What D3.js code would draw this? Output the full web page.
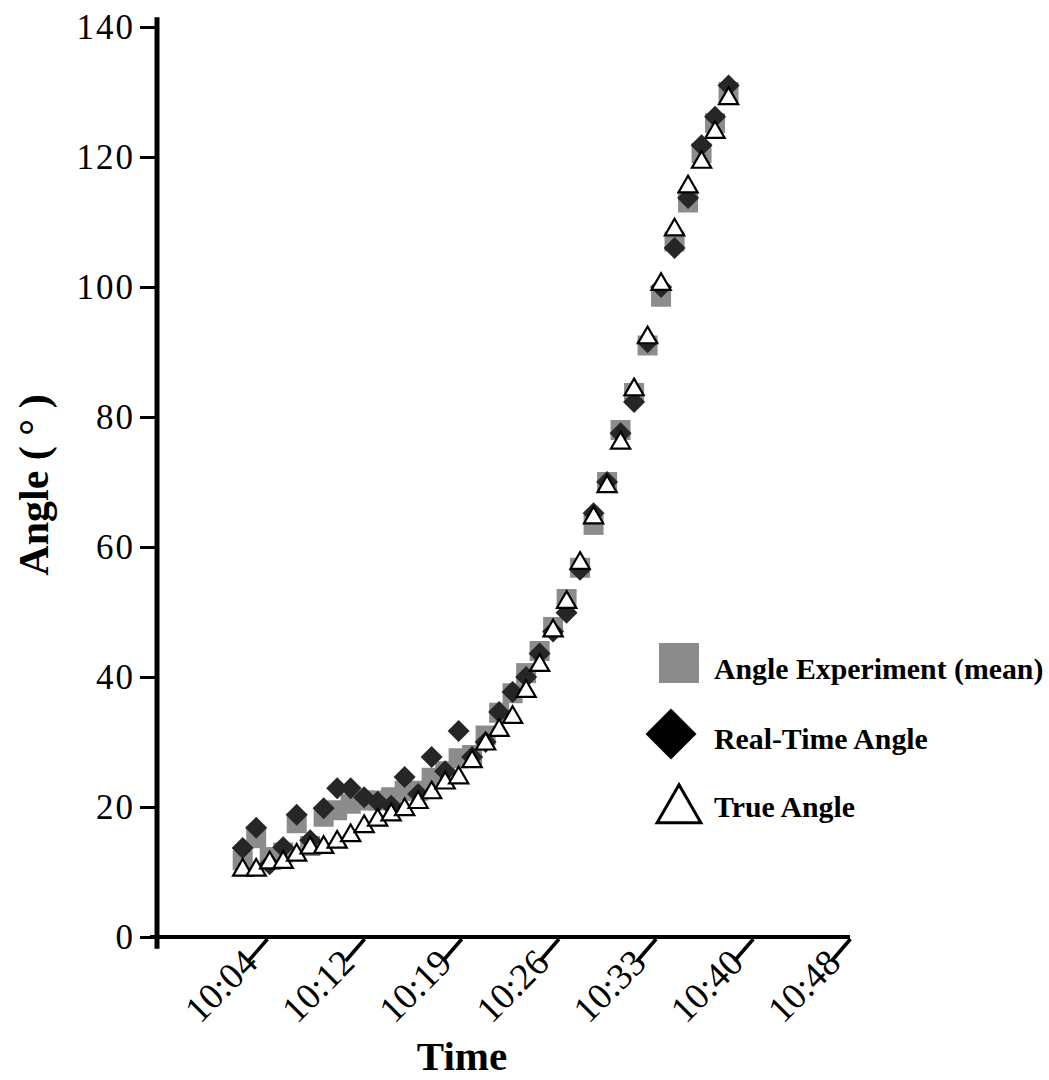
<!DOCTYPE html>
<html><head><meta charset="utf-8">
<script src="https://cdn.jsdelivr.net/npm/d3@7"></script>
<style>
html,body{margin:0;padding:0;background:#fff;}
svg{display:block;}
</style></head>
<body>
<svg id="chart" width="1049" height="1080"></svg>
<script>
// ---- data ----
const times = ["10:03","10:04","10:05","10:06","10:07","10:08","10:09","10:10","10:11","10:12",
  "10:13","10:14","10:15","10:16","10:17","10:18","10:19","10:20","10:21","10:22",
  "10:23","10:24","10:25","10:26","10:27","10:28","10:29","10:30","10:31","10:32",
  "10:33","10:34","10:35","10:36","10:37","10:38","10:39"];
const angleExperiment = [11.8,15.2,12.3,13.0,17.5,14.0,18.5,19.5,20.5,21.0,21.0,21.5,22.5,22.5,24.5,25.5,27.5,28.0,31.0,34.5,
  37.5,40.6,44.0,47.7,52.0,56.8,63.4,70.0,78.0,83.7,91.0,98.5,107.0,113.0,120.6,125.2,130.0];
const realTimeAngle = [13.7,16.8,11.2,13.8,18.8,14.9,19.8,22.9,22.9,21.5,20.8,20.2,24.6,22.0,27.7,25.5,31.7,27.7,30.0,34.6,
  37.7,40.0,43.6,47.0,49.9,56.5,65.2,70.0,77.5,82.3,91.5,100.0,106.0,113.7,121.8,126.2,131.0];
const trueAngle = [10.3,10.3,11.4,11.5,12.6,13.7,13.8,14.6,15.6,17.0,18.0,18.8,19.6,20.7,22.2,23.7,24.5,27.0,29.7,31.8,
  33.8,37.8,41.8,47.1,51.5,57.5,64.5,69.3,76.0,84.2,92.2,100.4,108.8,115.4,119.2,123.8,129.0];
const xTickValues = [4.8, 12, 19.2, 26.4, 33.6, 40.8, 48];   // minutes after 10:00
const xTickLabels = ["10:04","10:12","10:19","10:26","10:33","10:40","10:48"];
const yTickValues = [0,20,40,60,80,100,120,140];
const seriesNames = ["Angle Experiment (mean)","Real-Time Angle","True Angle"];

// ---- helpers ----
const toMin = s => { const [h,m] = s.split(":").map(Number); return (h-10)*60 + m; };
const serif = "'Liberation Serif','Times New Roman',Times,serif";

const svg = d3.select("#chart");
const x = d3.scaleLinear().domain([-3.35, 48]).range([157, 850]);
const y = d3.scaleLinear().domain([0, 140]).range([937, 27]);

// ---- axes ----
const yAxis = d3.axisLeft(y).tickValues(yTickValues).tickSize(17).tickPadding(5).tickSizeOuter(0);
const gy = svg.append("g").attr("transform", `translate(${x(-3.35)},0)`).call(yAxis);
gy.select(".domain").remove();
gy.selectAll(".tick line").attr("stroke", "#000").attr("stroke-width", 3);
gy.selectAll(".tick text").attr("font-family", serif).attr("font-size", 35).attr("fill", "#000")
  .attr("letter-spacing", 2);

const xAxis = d3.axisBottom(x).tickValues(xTickValues).tickFormat((d,i) => xTickLabels[i]).tickSizeOuter(0);
const gx = svg.append("g").attr("transform", `translate(0,${y(0)})`).call(xAxis);
gx.select(".domain").remove();
gx.selectAll(".tick line").attr("x1", 0).attr("y1", 2).attr("x2", -19).attr("y2", 24)
  .attr("stroke", "#000").attr("stroke-width", 3.5);
gx.selectAll(".tick text").attr("font-family", serif).attr("font-size", 37).attr("fill", "#000")
  .attr("dy", null).attr("y", null)
  .attr("transform", "translate(-8,28) rotate(-45)").style("text-anchor", "end");

// axis lines
svg.append("line").attr("x1", x(-3.35)).attr("x2", x(-3.35)).attr("y1", y(141.5)).attr("y2", y(-1.8))
  .attr("stroke", "#000").attr("stroke-width", 5);
svg.append("line").attr("x1", x(-3.35) - 7).attr("x2", x(48)).attr("y1", y(0)).attr("y2", y(0))
  .attr("stroke", "#000").attr("stroke-width", 4);

// axis titles
svg.append("text").attr("x", 462).attr("y", 1070).attr("text-anchor", "middle")
  .attr("font-family", serif).attr("font-weight", "bold").attr("font-size", 41).text("Time");
svg.append("text").attr("transform", "translate(48,485) rotate(-90)").attr("text-anchor", "middle")
  .attr("font-family", serif).attr("font-weight", "bold").attr("font-size", 42).text("Angle ( ° )");

// ---- marks ----
const data = times.map((t,i) => ({t: toMin(t), e: angleExperiment[i], r: realTimeAngle[i], a: trueAngle[i]}));
const sq = d3.symbol().type(d3.symbolSquare).size(20*20);
const dm = d3.symbol().type(d3.symbolSquare).size(242);
const tr = d3.symbol().type(d3.symbolTriangle).size(160);

svg.append("g").selectAll("path").data(data).join("path")
  .attr("d", sq).attr("transform", d => `translate(${x(d.t)},${y(d.e)})`).attr("fill", "#8c8c8c");
svg.append("g").selectAll("path").data(data).join("path")
  .attr("d", dm).attr("transform", d => `translate(${x(d.t)},${y(d.r)}) rotate(45)`).attr("fill", "#262626");
svg.append("g").selectAll("path").data(data).join("path")
  .attr("d", tr).attr("transform", d => `translate(${x(d.t)},${y(d.a)})`)
  .attr("fill", "#fff").attr("stroke", "#000").attr("stroke-width", 2.2);

// ---- legend ----
const lg = svg.append("g");
lg.append("path").attr("d", d3.symbol().type(d3.symbolSquare).size(40*40)).attr("transform", "translate(679,663)").attr("fill", "#8c8c8c");
lg.append("path").attr("d", d3.symbol().type(d3.symbolSquare).size(1300)).attr("transform", "translate(671,734) rotate(45)").attr("fill", "#000");
lg.append("path").attr("d", d3.symbol().type(d3.symbolTriangle).size(830)).attr("transform", "translate(679,810)")
  .attr("fill", "#fff").attr("stroke", "#000").attr("stroke-width", 3);
const legY = [679, 749, 817];
lg.selectAll("text").data(seriesNames).join("text")
  .attr("x", 714).attr("y", (d,i) => legY[i])
  .attr("font-family", serif).attr("font-weight", "bold").attr("font-size", 29.8).text(d => d);
</script>
</body></html>
